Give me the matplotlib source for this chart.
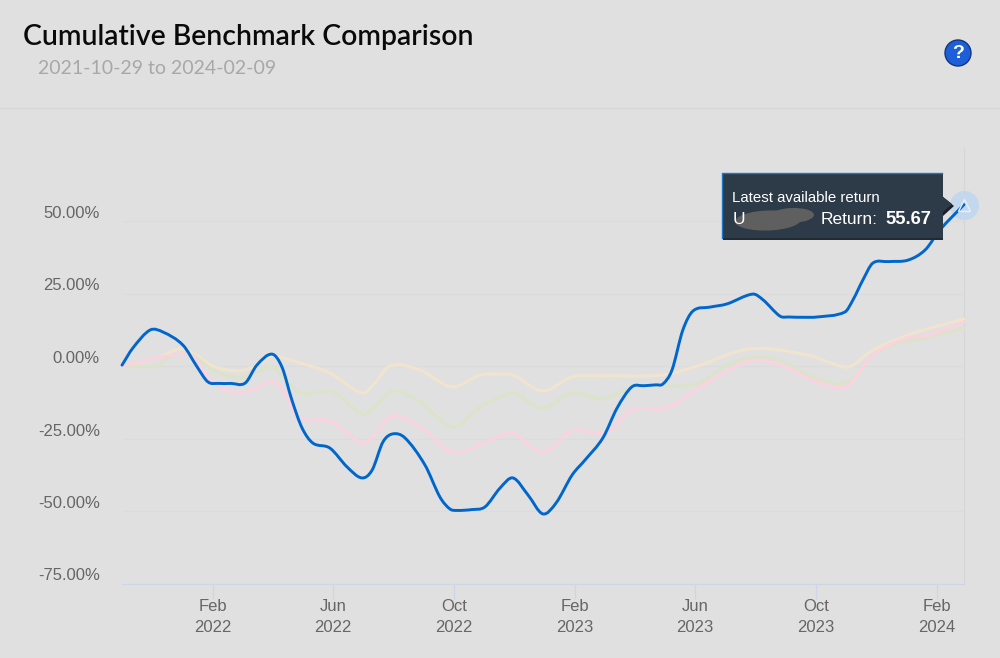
import matplotlib
matplotlib.use("Agg")
import matplotlib.pyplot as plt
from matplotlib.patches import Circle, Ellipse, PathPatch, Polygon, Rectangle
from matplotlib.path import Path

# x values are months counted from the start of Nov 2021
blue_x = [0.00, 0.36, 0.93, 1.36, 2.02, 2.49, 2.85, 3.20, 3.60, 4.08, 4.47, 4.97, 5.30, 5.63, 5.97, 6.33, 6.89,
          7.46, 7.95, 8.29, 8.65, 8.98, 9.38, 10.04, 10.54, 10.87, 11.10, 11.60, 12.03, 12.53, 12.96, 13.46, 13.95,
          14.39, 14.92, 15.35, 15.94, 16.41, 16.90, 17.30, 17.70, 17.93, 18.23, 18.59, 18.93, 19.49, 20.05, 20.91,
          21.25, 21.81, 22.10, 22.60, 23.04, 23.96, 24.23, 24.56, 24.89, 25.40, 26.05, 26.62, 27.11, 27.91]
blue_y = [0.3, 6.2, 12.4, 11.7, 7.2, -0.3, -5.5, -6.0, -6.0, -5.9, 0.3, 4.1, -0.3, -11.7, -21.4, -26.6, -28.3,
          -34.8, -38.6, -35.9, -26.2, -23.4, -24.8, -34.1, -45.2, -49.3, -49.8, -49.5, -48.6, -42.1, -38.6, -44.5, -51.0,
          -47.2, -37.6, -32.4, -24.8, -14.5, -7.2, -6.8, -6.5, -6.2, -1.4, 12.4, 19.0, 20.3, 21.4, 24.8,
          22.8, 17.2, 16.9, 16.8, 16.9, 18.6, 22.8, 29.7, 35.5, 36.0, 36.5, 40.0, 46.9, 55.67]

orange_x = [0.00, 1.16, 1.92, 2.35, 3.02, 3.91, 4.47, 4.97, 5.90, 6.89, 7.95, 8.32, 8.88, 9.88, 10.94,
            11.87, 12.53, 12.96, 13.95, 14.92, 15.84, 17.93, 19.16, 20.82, 22.70, 23.90, 24.23, 24.89,
            26.35, 27.91]
orange_y = [0.0, 2.8, 5.9, 4.5, 0.0, -1.7, 0.3, 3.4, 1.0, -2.4, -9.3, -6.6, 0.0, -1.4, -7.2,
            -3.1, -2.8, -3.1, -8.6, -3.8, -3.4, -3.1, 0.3, 5.9, 3.8, -0.3, 0.3, 5.5,
            11.7, 16.2]

green_x = [0.00, 1.16, 1.59, 2.25, 3.02, 3.91, 4.47, 4.97, 5.34, 5.90, 6.99, 7.95, 8.32, 8.98, 9.88,
           10.97, 11.87, 12.53, 12.96, 13.95, 14.92, 15.94, 16.94, 19.06, 20.05, 21.05, 21.91, 22.90,
           24.06, 24.89, 25.89, 26.68, 27.91]
green_y = [0.0, 0.0, 3.1, 4.1, -1.4, -4.1, -2.1, -0.3, -3.8, -9.3, -9.0, -16.6, -14.5, -8.6, -12.4,
           -21.0, -14.1, -10.7, -9.3, -14.5, -9.3, -11.4, -7.2, -6.2, 0.3, 3.1, 1.4, -3.8,
           -5.5, 3.8, 8.3, 9.7, 13.1]

pink_x = [0.00, 1.16, 2.02, 2.42, 2.92, 3.91, 4.97, 5.34, 5.83, 6.89, 7.95, 8.32, 8.95, 9.88, 10.94,
          11.87, 12.53, 12.96, 13.95, 14.92, 16.08, 16.90, 18.06, 19.16, 20.82, 21.91, 23.04, 24.03,
          24.89, 26.02, 26.78, 27.91]
pink_y = [0.0, 2.8, 4.1, 2.8, -4.8, -9.3, -5.5, -8.3, -17.6, -19.0, -26.6, -24.5, -17.2, -21.0, -29.7,
          -27.2, -24.1, -23.1, -29.7, -22.4, -22.8, -15.2, -14.5, -7.2, 1.7, 0.0, -5.5, -6.9,
          3.8, 9.7, 10.7, 15.2]

y_ticks = [-75, -50, -25, 0, 25, 50, 75]
y_tick_labels = ["-75.00%", "-50.00%", "-25.00%", "0.00%", "25.00%", "50.00%"]
x_ticks = [3, 7, 11, 15, 19, 23, 27]
x_tick_labels = ["Feb\n2022", "Jun\n2022", "Oct\n2022", "Feb\n2023", "Jun\n2023", "Oct\n2023", "Feb\n2024"]

BG = "#e0e0e0"
plt.rcParams["font.family"] = ["Liberation Sans", "DejaVu Sans"]


def smooth_line(ax, xs, ys, color, lw, zorder):
    # catmull-rom handles so the curve goes through each read value
    verts = [(xs[0], ys[0])]
    codes = [Path.MOVETO]
    n = len(xs)
    for i in range(n - 1):
        i0 = max(i - 1, 0)
        i3 = min(i + 2, n - 1)
        h = xs[i + 1] - xs[i]
        m1 = (ys[i + 1] - ys[i0]) / (xs[i + 1] - xs[i0])
        m2 = (ys[i3] - ys[i]) / (xs[i3] - xs[i])
        verts.append((xs[i] + h / 3, ys[i] + m1 * h / 3))
        verts.append((xs[i + 1] - h / 3, ys[i + 1] - m2 * h / 3))
        verts.append((xs[i + 1], ys[i + 1]))
        codes += [Path.CURVE4] * 3
    ax.add_patch(PathPatch(Path(verts, codes), fill=False, edgecolor=color, lw=lw, zorder=zorder,
                           clip_on=False, capstyle="round"))


fig = plt.figure(figsize=(10, 6.58), dpi=100, facecolor=BG)
ax = fig.add_axes([0.122, (658 - 583.5) / 658, 0.842, 435 / 658], facecolor=BG)
ax.set_xlim(0, 27.91)
ax.set_ylim(-75, 75)

for s in ["top", "left"]:
    ax.spines[s].set_visible(False)
ax.spines["right"].set_color("#d6d6d6")
ax.spines["bottom"].set_color("#cdd6e6")
ax.set_axisbelow(True)
ax.grid(axis="y", color="#dcdcdc", lw=1)

ax.set_yticks(y_ticks)
ax.set_yticklabels(y_tick_labels + [""], color="#666666", fontsize=12, va="bottom")
ax.tick_params(axis="y", length=0, pad=16)
ax.set_xticks(x_ticks)
ax.set_xticklabels(x_tick_labels, color="#666666", fontsize=12, linespacing=1.55)
ax.tick_params(axis="x", length=10.5, width=1, color="#cdd6e6", pad=0.5)

smooth_line(ax, orange_x, orange_y, "#f1e4cf", 2.2, 3)
smooth_line(ax, green_x, green_y, "#dbe4c8", 2.2, 3)
smooth_line(ax, pink_x, pink_y, "#fbd2e0", 2.2, 4)
smooth_line(ax, blue_x, blue_y, "#0066cc", 2.1, 5)

ax.plot(blue_x[-1], blue_y[-1], "o", ms=21, mfc="#c3d8ec", mec="none", clip_on=False, zorder=4)
ax.plot(blue_x[-1], blue_y[-1], "^", ms=8, mfc="none", mec="#e8eef5", mew=1, clip_on=False, zorder=6)

# overlay in pixel coordinates for the page furniture
top = fig.add_axes([0, 0, 1, 1], facecolor="none", zorder=10)
top.set_xlim(0, 1000)
top.set_ylim(658, 0)
top.axis("off")

top.plot([0, 1000], [108, 108], color="#d7d7d7", lw=1)
top.text(23, 37, "Cumulative Benchmark Comparison", fontsize=20.4, family="Lato", weight="semibold",
         color="#0a0a0a", va="center")
top.text(38, 68, "2021-10-29 to 2024-02-09", fontsize=14, family="Lato",
         color="#a8a8a8", va="center")

top.add_patch(Circle((958, 53), 13, fc="#1c5fd8", ec="#15357a", lw=1))
top.text(958, 53.5, "?", color="white", fontsize=14, weight="bold", ha="center", va="center")

# tooltip
top.add_patch(Rectangle((723, 175), 220, 65, fc="#222a33", ec="none"))
top.add_patch(Polygon([(943, 197), (954, 206), (943, 216)], fc="#1b2026", ec="none"))
top.add_patch(Rectangle((721.5, 173), 221, 65, fc="#2d3a48", ec="none"))
top.plot([721.5, 721.5, 942], [238, 173, 173], color="#1a78cc", lw=1)
top.add_patch(Polygon([(942, 196), (952, 204), (942, 213)], fc="#2d3a48", ec="none"))
top.text(732, 198, "Latest available return", color="white", fontsize=10.8, va="center")
top.text(733, 219, "U", color="white", fontsize=12.5, va="center")
top.add_patch(Ellipse((768, 220.5), 66, 20, angle=-2, fc="#5f5f5f", ec="none"))
top.add_patch(Ellipse((792, 215.5), 44, 15, angle=-2, fc="#5f5f5f", ec="none"))
top.text(821, 219, "Return:", color="white", fontsize=12.5, va="center")
top.text(885, 219, "55.67", color="white", fontsize=13.2, weight="bold", va="center")

fig.savefig("out.png", dpi=100, facecolor=BG)
